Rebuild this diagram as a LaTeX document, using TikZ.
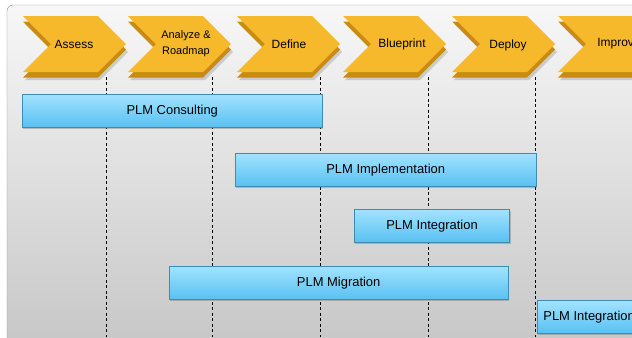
\documentclass[tikz,border=0pt]{standalone}
\usepackage{fontspec}
\setmainfont{Liberation Sans}
\usetikzlibrary{shadows}

\definecolor{stepface}{HTML}{F7B92C}
\definecolor{stepdark}{HTML}{C98B12}
\definecolor{bartop}{HTML}{A2E3FF}
\definecolor{barbot}{HTML}{58C0F2}
\definecolor{barline}{HTML}{3F8CB3}

\tikzset{
  phase/.style={font=\fontsize{12}{16}\selectfont, align=center, inner sep=0pt},
  phasetwo/.style={phase, font=\fontsize{11}{16}\selectfont},
  track/.style={draw=barline, line width=0.6pt, top color=bartop, bottom color=barbot,
    minimum height=33.5, anchor=north west, inner sep=0pt,
    font=\fontsize{13}{15}\selectfont,
    drop shadow={shadow xshift=1pt, shadow yshift=-1.5pt, opacity=.35, fill=black!60}},
  guide/.style={dash pattern=on 3pt off 2.5pt, line width=0.6pt}
}

\begin{document}
\begin{tikzpicture}[x=1bp, y=-1bp]
    \useasboundingbox (0,0) rectangle (632,337);
    \clip (0,0) rectangle (632,337);
    \fill[white] (0,0) rectangle (632,337);
    \draw[draw=black!45, rounded corners=6, top color=black!3, bottom color=black!22] (7,5) rectangle (680,345);

    % phase guides
    \foreach \gx [count=\i] in {106,212,320,428,535} {
        \coordinate (top\i) at (\gx,77);
        \coordinate (bot\i) at (\gx,337);
        \draw[guide] (top\i) -- (bot\i);
    }

    % phases
    \foreach \x/\name/\tx in {23/assess/74, 128/analyze/186, 237/define/289, 343/blueprint/402, 452/deploy/508, 558/improve/619} {
        \fill[black, opacity=.15] (\x+2,24) -- ++(75,0) -- ++(28,28) -- ++(-28,28) -- ++(-75,0) -- ++(28,-28) -- cycle;
        \fill[stepdark] (\x,21.5) -- ++(75,0) -- ++(28,28) -- ++(-28,28) -- ++(-75,0) -- ++(28,-28) -- cycle;
        \fill[stepface] (\x,16) -- ++(75,0) -- ++(28,28) -- ++(-28,28) -- ++(-75,0) -- ++(28,-28) -- cycle;
    }
    \node[phase] (assess) at (74,44) {Assess};
    \node[phasetwo] (analyze) at (186,44) {Analyze \&\\Roadmap};
    \node[phase] (define) at (289,44) {Define};
    \node[phase] (blueprint) at (402,44) {Blueprint};
    \node[phase] (deploy) at (508,45) {Deploy};
    \node[phase] (improve) at (619,44) {Improve};

    % services
    \node[track, minimum width=301] (consult) at (22,94) {PLM Consulting};
    \node[track, minimum width=302] (implement) at (235,153) {PLM Implementation};
    \node[track, minimum width=156] (integrate) at (354,209) {PLM Integration};
    \node[track, minimum width=340] (migrate) at (169,266) {PLM Migration};
    \node[track, minimum width=104] (integratetwo) at (537,300) {PLM Integration};
\end{tikzpicture}
\end{document}
